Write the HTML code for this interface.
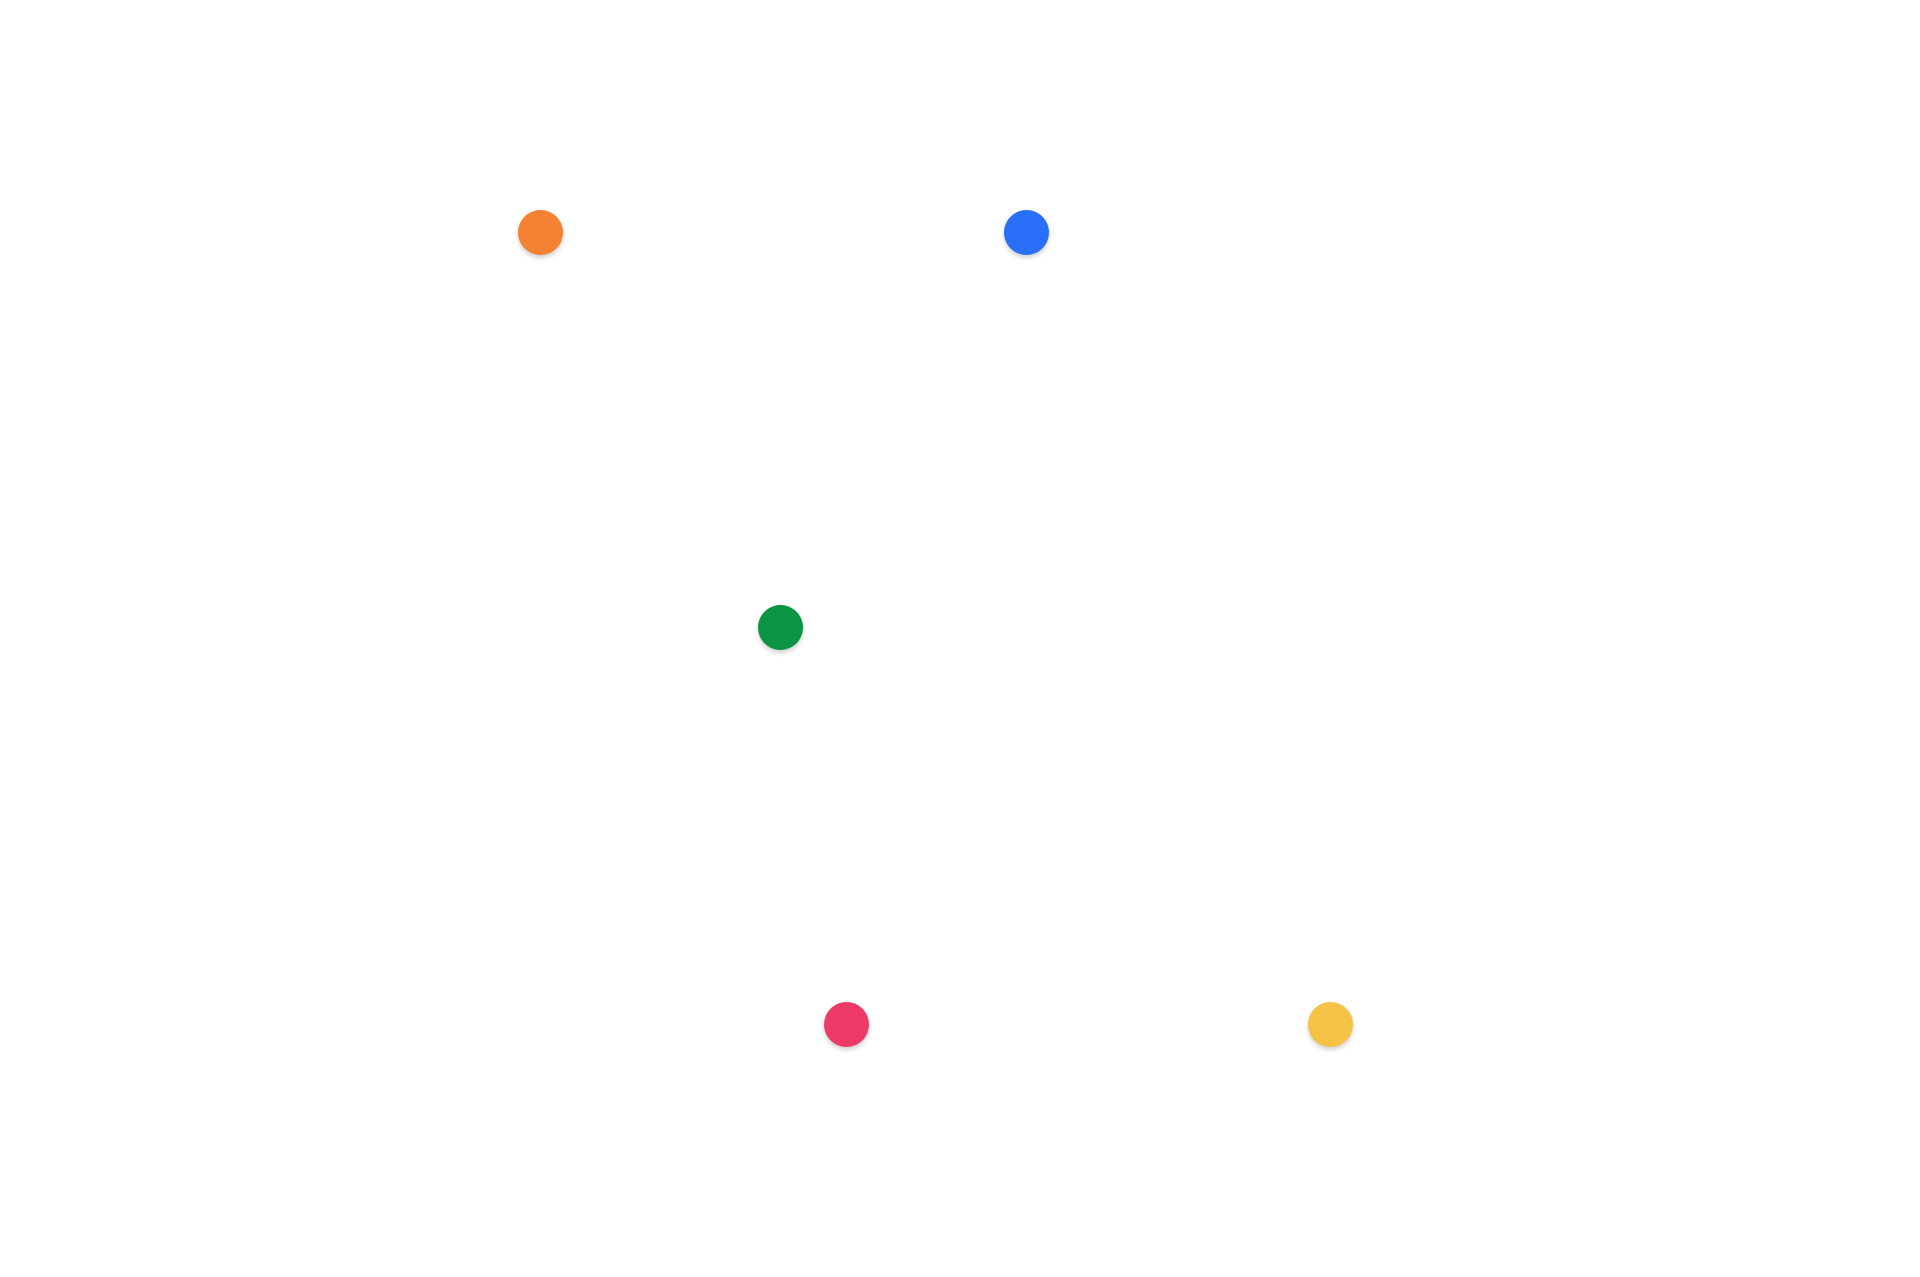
<!DOCTYPE html>
<html><head><meta charset="utf-8"><style>
html,body{margin:0;padding:0;background:#fff;width:1920px;height:1277px;overflow:hidden}
.d{position:absolute;width:45px;height:45px;border-radius:50%;box-shadow:0 3px 5px rgba(0,0,0,0.18)}
</style></head><body>
<div class="d" style="left:518px;top:210px;background:#f58232"></div>
<div class="d" style="left:1004px;top:210px;background:#2a6ff7"></div>
<div class="d" style="left:758px;top:605px;background:#0a9444"></div>
<div class="d" style="left:824px;top:1002px;background:#ee3a66"></div>
<div class="d" style="left:1308px;top:1002px;background:#f4c244"></div>
</body></html>
